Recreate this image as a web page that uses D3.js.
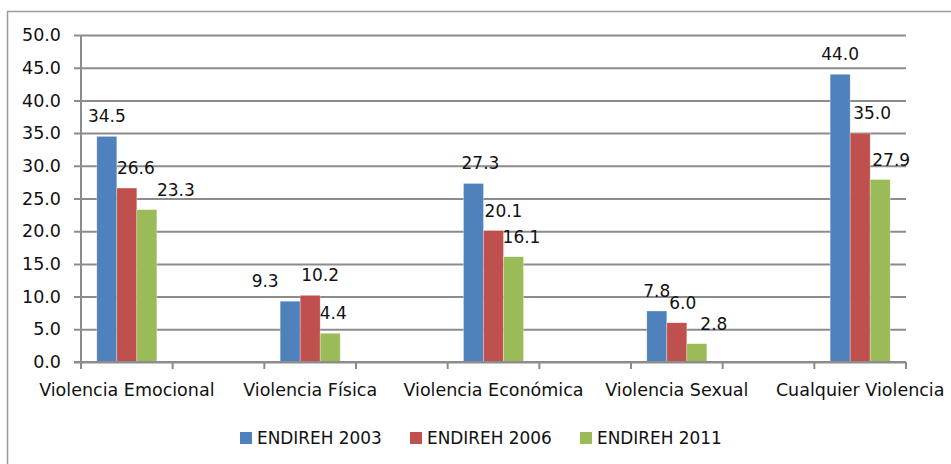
<!DOCTYPE html>
<html>
<head>
<meta charset="utf-8">
<script src="https://cdn.jsdelivr.net/npm/d3@7"></script>
<style>
  body { margin: 0; background: #fff; }
  text { font-family: "DejaVu Sans", sans-serif; fill: #111; }
</style>
</head>
<body>
<div id="viz-container"></div>
<script>
// data
let categories = ["Violencia Emocional", "Violencia Física", "Violencia Económica", "Violencia Sexual", "Cualquier Violencia"];
let seriesNames = ["ENDIREH 2003", "ENDIREH 2006", "ENDIREH 2011"];
let v2003 = [34.5, 9.3, 27.3, 7.8, 44.0];
let v2006 = [26.6, 10.2, 20.1, 6.0, 35.0];
let v2011 = [23.3, 4.4, 16.1, 2.8, 27.9];
let yTicks = [0, 5, 10, 15, 20, 25, 30, 35, 40, 45, 50];

let colors = ["#4f81bd", "#c0504d", "#9bbb59"];
// label nudges (px) the way they were dragged in the original
let labelNudge = [
  [0, -25, 7, 0, 0],
  [9, 10, 10, 6, 12],
  [29, 3, 8, 17, 11]
];

let allValues = [v2003, v2006, v2011];

// the original has empty slots between the categories
let slots = [];
categories.forEach(function(c, i){
  slots.push(c);
  if (i < categories.length - 1) slots.push("_gap" + i);
});

let W = 951, H = 464;
let margin = {left: 81, top: 35, right: 45, bottom: 101};

let viz = d3.select("#viz-container")
              .append("svg")
                .attr("width", W)
                .attr("height", H);

// outer chart frame
viz.append("rect")
    .attr("x", 7.5).attr("y", 11.5)
    .attr("width", 960).attr("height", 470)
    .attr("fill", "none")
    .attr("stroke", "#9a9a9a")
    .attr("stroke-width", 1.5);

let innerW = W - margin.left - margin.right;
let innerH = H - margin.top - margin.bottom - 1;

let g = viz.append("g").attr("transform", "translate(" + margin.left + "," + margin.top + ")");

let x = d3.scaleBand().domain(slots).range([0, innerW]).padding(0);
let xSub = d3.scaleBand().domain(seriesNames).range([0, x.bandwidth()]).paddingInner(0).paddingOuter(0.79);
let y = d3.scaleLinear().domain([0, 50]).range([innerH, 0]);

// y axis + gridlines
let yAxis = g.append("g")
    .call(d3.axisLeft(y).tickValues(yTicks).tickFormat(d3.format(".1f")).tickSizeInner(-innerW).tickSizeOuter(0).tickPadding(20));
yAxis.select(".domain").remove();
yAxis.selectAll(".tick line")
    .attr("x1", -7)
    .attr("stroke", "#8c8c8c")
    .attr("stroke-width", 2);
yAxis.selectAll(".tick text")
    .attr("font-size", 17.5)
    .attr("fill", "#111");

g.append("line")
    .attr("x1", 0).attr("x2", 0)
    .attr("y1", 0).attr("y2", innerH + 7)
    .attr("stroke", "#8c8c8c")
    .attr("stroke-width", 2);

// bars
let groups = g.selectAll(".series").data(seriesNames).enter().append("g")
    .attr("class", "series")
    .attr("fill", function(d, i){ return colors[i]; });

groups.selectAll("rect")
    .data(function(s, si){ return categories.map(function(c, ci){ return {c: c, v: allValues[si][ci], s: s, si: si, ci: ci}; }); })
    .enter().append("rect")
      .attr("x", function(d){ return x(d.c) + xSub(d.s); })
      .attr("y", function(d){ return y(d.v); })
      .attr("width", xSub.bandwidth())
      .attr("height", function(d){ return innerH - y(d.v); })
      .attr("stroke", "#ffffff")
      .attr("stroke-opacity", 0.5)
      .attr("stroke-width", 0.6);

// value labels
groups.selectAll("text")
    .data(function(s, si){ return categories.map(function(c, ci){ return {c: c, v: allValues[si][ci], s: s, si: si, ci: ci}; }); })
    .enter().append("text")
      .attr("x", function(d){ return x(d.c) + xSub(d.s) + xSub.bandwidth() / 2 + labelNudge[d.si][d.ci]; })
      .attr("y", function(d){ return y(d.v) - 14; })
      .attr("text-anchor", "middle")
      .attr("font-size", 17)
      .text(function(d){ return d3.format(".1f")(d.v); });

// x axis line, ticks at slot boundaries
g.append("line")
    .attr("x1", -7).attr("x2", innerW)
    .attr("y1", innerH).attr("y2", innerH)
    .attr("stroke", "#8c8c8c")
    .attr("stroke-width", 2);

g.selectAll(".xtick").data(slots.concat(["end"])).enter().append("line")
    .attr("class", "xtick")
    .attr("x1", function(d, i){ return i < slots.length ? x(d) : innerW; })
    .attr("x2", function(d, i){ return i < slots.length ? x(d) : innerW; })
    .attr("y1", innerH).attr("y2", innerH + 7)
    .attr("stroke", "#8c8c8c")
    .attr("stroke-width", 2);

g.selectAll(".xlabel").data(categories).enter().append("text")
    .attr("class", "xlabel")
    .attr("x", function(d){ return x(d) + x.bandwidth() / 2; })
    .attr("y", innerH + 34)
    .attr("text-anchor", "middle")
    .attr("font-size", 17.5)
    .text(function(d){ return d; });

// legend
let legendX = [240, 410, 580];
let legend = viz.selectAll(".legend").data(seriesNames).enter().append("g")
    .attr("class", "legend")
    .attr("transform", function(d, i){ return "translate(" + legendX[i] + ",432)"; });
legend.append("rect")
    .attr("width", 12).attr("height", 12)
    .attr("fill", function(d, i){ return colors[i]; });
legend.append("text")
    .attr("x", 17).attr("y", 12)
    .attr("font-size", 16.9)
    .text(function(d){ return d; });
</script>
</body>
</html>
